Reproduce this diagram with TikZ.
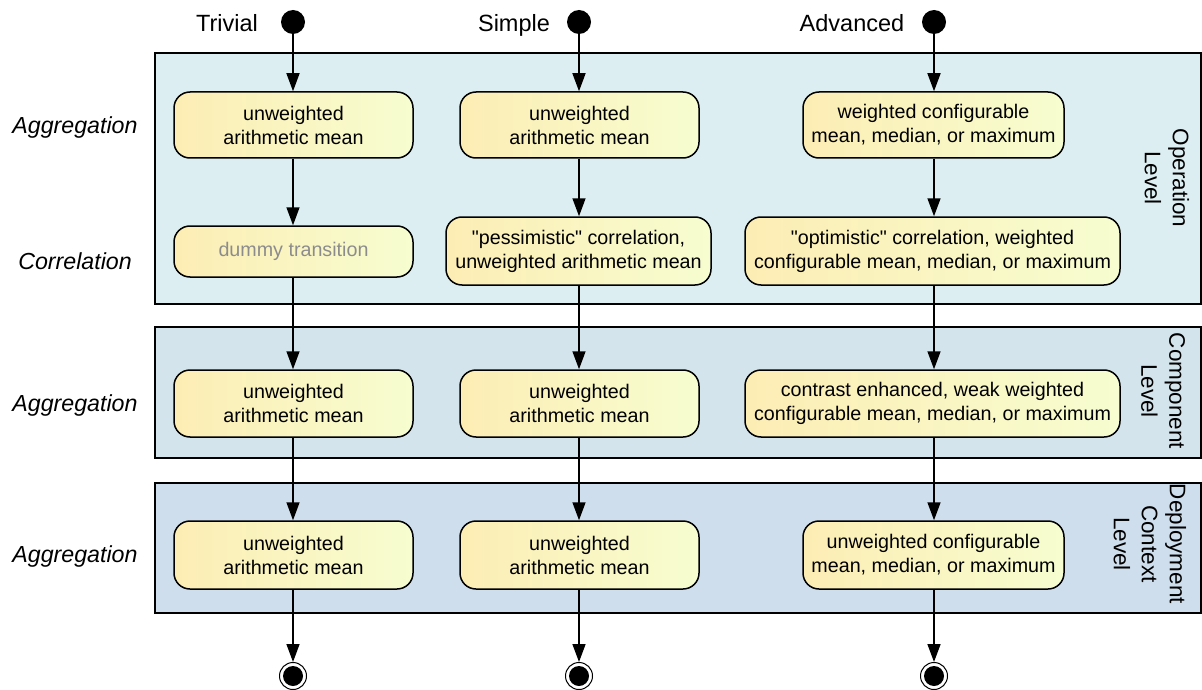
\documentclass[tikz,border=0pt]{standalone}
\usepackage{fontspec}
\setmainfont{Liberation Sans}
\usetikzlibrary{arrows.meta}
\definecolor{bandA}{HTML}{DCEEF2}
\definecolor{bandB}{HTML}{D4E4EC}
\definecolor{bandC}{HTML}{CEDEEC}
\definecolor{actL}{HTML}{FCEDB4}
\definecolor{actR}{HTML}{F7FDD0}
\newcommand{\dq}{\textquotedbl}
\tikzset{
  band/.style={draw=black, line width=1.6pt},
  act/.style={draw=black, line width=1.5pt, rounded corners=16pt, left color=actL, right color=actR,
    align=center, inner sep=0pt, font=\fontsize{19.7}{24}\selectfont},
  flow/.style={line width=1.5pt, -{Triangle[length=18pt,width=13pt]}},
  startdot/.style={circle, fill=black, minimum size=24pt, inner sep=0pt},
  enddot/.style={circle, draw=black, line width=1pt, fill=white, minimum size=27pt, inner sep=0pt,
    path picture={\fill[black] (path picture bounding box.center) circle (10pt);}},
  lvl/.style={anchor=base, font=\fontsize{23.2}{28}\selectfont\itshape},
  col/.style={anchor=base, font=\fontsize{23.5}{28}\selectfont},
  side/.style={rotate=-90, align=center, font=\fontsize{22.5}{28}\selectfont},
}
\begin{document}
\begin{tikzpicture}[x=1pt,y=-1pt]
\useasboundingbox (0,0) rectangle (1202,690);
% level bands
\draw[band, fill=bandA] (155,53) rectangle (1201,304);
\draw[band, fill=bandB] (155,327) rectangle (1201,458);
\draw[band, fill=bandC] (155,483) rectangle (1201,613);
% band titles
\node[side] (opL) at (1167,178) {Operation\\Level};
\node[side] (compL) at (1163,391) {Component\\Level};
\node[side] (depL) at (1150,544) {Deployment\\Context\\Level};
% step titles
\node[lvl] (l1) at (75,134) {Aggregation};
\node[lvl] (l2) at (75,269) {Correlation};
\node[lvl] (l3) at (75,411) {Aggregation};
\node[lvl] (l4) at (75,562) {Aggregation};
% variant titles
\node[col] (t1) at (227,32) {Trivial};
\node[col] (t2) at (514,32) {Simple};
\node[col] (t3) at (852,32) {Advanced};
% start and end states
\node[startdot] (s1) at (293,22) {};
\node[startdot] (s2) at (579,22) {};
\node[startdot] (s3) at (934,22) {};
\node[enddot] (e1) at (293,676) {};
\node[enddot] (e2) at (579,676) {};
\node[enddot] (e3) at (934,676) {};
% trivial
\node[act, minimum width=239pt, minimum height=66pt] (a1) at (293.5,125) {unweighted\\arithmetic mean};
\node[act, minimum width=239pt, minimum height=51pt, text=black!45] (a2) at (293.5,251.5) {dummy transition};
\node[act, minimum width=239pt, minimum height=67pt] (a3) at (293.5,403.5) {unweighted\\arithmetic mean};
\node[act, minimum width=239pt, minimum height=68pt] (a4) at (293.5,555) {unweighted\\arithmetic mean};
% simple
\node[act, minimum width=239pt, minimum height=66pt] (b1) at (579.5,125) {unweighted\\arithmetic mean};
\node[act, minimum width=265pt, minimum height=68pt] (b2) at (578.5,251) {\dq pessimistic\dq{} correlation,\\unweighted arithmetic mean};
\node[act, minimum width=239pt, minimum height=67pt] (b3) at (579.5,403.5) {unweighted\\arithmetic mean};
\node[act, minimum width=239pt, minimum height=68pt] (b4) at (579.5,555) {unweighted\\arithmetic mean};
% advanced
\node[act, minimum width=261pt, minimum height=66pt] (c1) at (933.5,125) {weighted configurable\\mean, median, or maximum};
\node[act, minimum width=375pt, minimum height=68pt] (c2) at (932.5,251) {\dq optimistic\dq{} correlation, weighted\\configurable mean, median, or maximum};
\node[act, minimum width=375pt, minimum height=67pt] (c3) at (932.5,403.5) {contrast enhanced, weak weighted\\configurable mean, median, or maximum};
\node[act, minimum width=261pt, minimum height=68pt] (c4) at (933.5,555) {unweighted configurable\\mean, median, or maximum};
% transitions
\draw[flow] (s1) -- (a1.north -| s1);
\draw[flow] (a1.south -| s1) -- (a2.north -| s1);
\draw[flow] (a2.south -| s1) -- (a3.north -| s1);
\draw[flow] (a3.south -| s1) -- (a4.north -| s1);
\draw[flow] (a4.south -| s1) -- (e1);
\draw[flow] (s2) -- (b1.north -| s2);
\draw[flow] (b1.south -| s2) -- (b2.north -| s2);
\draw[flow] (b2.south -| s2) -- (b3.north -| s2);
\draw[flow] (b3.south -| s2) -- (b4.north -| s2);
\draw[flow] (b4.south -| s2) -- (e2);
\draw[flow] (s3) -- (c1.north -| s3);
\draw[flow] (c1.south -| s3) -- (c2.north -| s3);
\draw[flow] (c2.south -| s3) -- (c3.north -| s3);
\draw[flow] (c3.south -| s3) -- (c4.north -| s3);
\draw[flow] (c4.south -| s3) -- (e3);
\end{tikzpicture}
\end{document}
